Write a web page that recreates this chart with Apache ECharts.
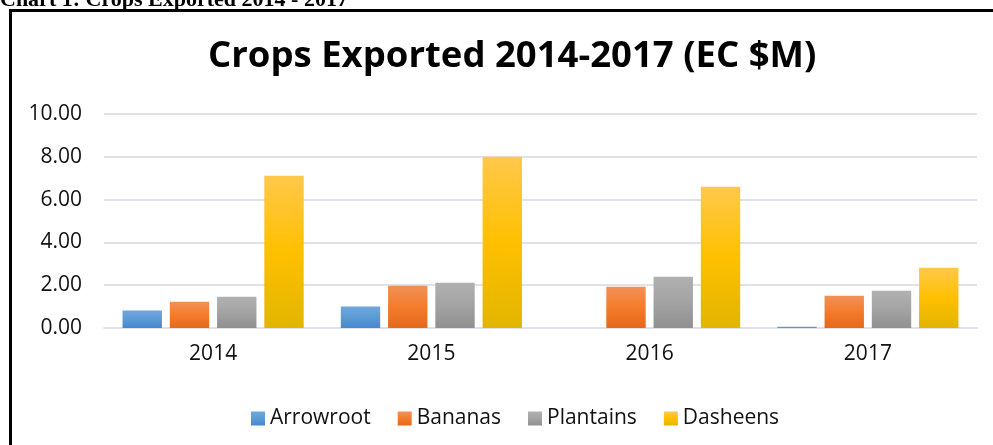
<!DOCTYPE html>
<html><head><meta charset="utf-8">
<script src="https://cdn.jsdelivr.net/npm/echarts@6/dist/echarts.min.js"></script>
<style>html,body{margin:0;padding:0;background:#fff}#c{width:993px;height:445px}</style>
</head><body><div id="c"></div>
<script>
const categories = ['2014', '2015', '2016', '2017'];
const arrowroot = [0.82, 1.00, 0, 0.06];
const bananas = [1.23, 1.98, 1.93, 1.51];
const plantains = [1.46, 2.12, 2.40, 1.74];
const dasheens = [7.12, 8.00, 6.60, 2.82];
const yTicks = [0, 2, 4, 6, 8, 10];

function grad(top, mid, bottom) {
  return new echarts.graphic.LinearGradient(0, 0, 0, 1, [
    {offset: 0, color: top}, {offset: 0.5, color: mid}, {offset: 1, color: bottom}
  ]);
}
const chart = echarts.init(document.getElementById('c'), null, {renderer: 'canvas'});
const font = 'Open Sans';
chart.setOption({
  animation: false,
  backgroundColor: '#fff',
  title: {
    text: 'Crops Exported 2014-2017 (EC $M)',
    left: 203, top: 33,
    textStyle: {fontFamily: font, fontWeight: 'bold', fontSize: 36.5, color: '#000'}
  },
  graphic: [
    {type: 'rect', shape: {x: 10.5, y: 10.5, width: 1100, height: 600}, style: {fill: null, stroke: '#000', lineWidth: 3}},
    {type: 'text', style: {x: 0, y: 11, verticalAlign: 'bottom', text: 'Chart 1: Crops Exported 2014 - 2017', font: 'bold 22px "Liberation Serif"', fill: '#000'}}
  ],
  legend: {
    left: 246, top: 403,
    itemWidth: 14, itemHeight: 14, itemGap: 27,
    icon: 'rect',
    textStyle: {fontFamily: font, fontSize: 21, color: '#111'},
    data: ['Arrowroot', 'Bananas', 'Plantains', 'Dasheens']
  },
  grid: {left: 104, right: 16, top: 114, bottom: 117, containLabel: false},
  xAxis: {
    type: 'category', data: categories,
    axisLine: {lineStyle: {color: '#dfe3e8', width: 2}},
    axisTick: {show: false},
    axisLabel: {fontFamily: font, fontSize: 21, color: '#111', margin: 16}
  },
  yAxis: {
    type: 'value', min: yTicks[0], max: yTicks[yTicks.length - 1], interval: 2,
    axisLine: {show: false}, axisTick: {show: false},
    splitLine: {lineStyle: {color: '#dfe3e8', width: 2}},
    axisLabel: {fontFamily: font, fontSize: 21, color: '#111', margin: 22, formatter: v => v.toFixed(2)}
  },
  series: [
    {name: 'Arrowroot', type: 'bar', data: arrowroot, barGap: '20%', barCategoryGap: '17%',
      itemStyle: {color: grad('#70a7de', '#5b9bd5', '#4686cc')}},
    {name: 'Bananas', type: 'bar', data: bananas,
      itemStyle: {color: grad('#f19158', '#f47c2c', '#e4691b')}},
    {name: 'Plantains', type: 'bar', data: plantains,
      itemStyle: {color: grad('#b1b1b1', '#a3a3a3', '#909090')}},
    {name: 'Dasheens', type: 'bar', data: dasheens,
      itemStyle: {color: grad('#ffc84b', '#ffc000', '#e2b500')}}
  ]
});
</script></body></html>
